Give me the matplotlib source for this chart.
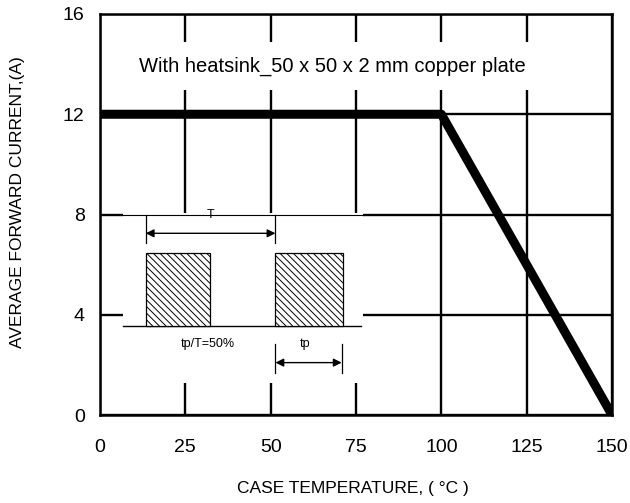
import matplotlib
matplotlib.use("Agg")
import matplotlib.pyplot as plt
from matplotlib.patches import Rectangle

plt.rcParams['font.family'] = ['Liberation Sans', 'DejaVu Sans']
plt.rcParams['hatch.linewidth'] = 0.7

# derating curve
temp = [0, 100, 150]
current = [12, 12, 0]

xticks = [0, 25, 50, 75, 100, 125, 150]
yticks = [0, 4, 8, 12, 16]

note = "With heatsink_50 x 50 x 2 mm copper plate"
xlab = "CASE TEMPERATURE, ( \u00b0C )"
ylab = "AVERAGE FORWARD CURRENT,(A)"

# pulse sketch (in data units of the main axes)
pulse_left = [13.4, 51.4]
pulse_right = [32.1, 71.3]
pulse_low = 3.55
pulse_high = 6.46

fig = plt.figure(figsize=(6.3, 5.03), dpi=100)
ax = fig.add_axes([100/630, 1-415/503, 512/630, 401/503])
ax.set_xlim(0, 150)
ax.set_ylim(0, 16)
ax.set_xticks(xticks)
ax.set_yticks(yticks)
ax.tick_params(length=0, labelsize=14)
ax.tick_params(axis='x', pad=17)
ax.tick_params(axis='y', pad=11)
for s in ax.spines.values():
    s.set_linewidth(1.8)
ax.grid(True, color='black', linewidth=1.7)
ax.set_axisbelow(True)

ax.plot(temp, current, color='black', linewidth=6.5, solid_capstyle='butt', zorder=5)

# white band behind the note
ax.add_patch(Rectangle((9, 12.97), 120, 1.91, facecolor='white', edgecolor='none', zorder=2))
ax.text(68, 13.93, note, fontsize=14.5, ha='center', va='center', zorder=3)

# inset white box with pulses
ax.add_patch(Rectangle((6.7, 1.28), 70.4, 6.78, facecolor='white', edgecolor='none', zorder=2))
ax.plot([6.7, 77.1], [8, 8], color='black', linewidth=0.8, zorder=3)
ax.plot([6.8, 76.6], [pulse_low, pulse_low], color='black', linewidth=1.0, zorder=3)
for l, r in zip(pulse_left, pulse_right):
    ax.add_patch(Rectangle((l, pulse_low), r - l, pulse_high - pulse_low, facecolor='white',
                           edgecolor='black', hatch='\\\\\\\\\\', linewidth=0.9, zorder=3))

# T arrow
for xx in [13.4, 51.4]:
    ax.plot([xx, xx], [6.87, 7.98], color='black', linewidth=0.9, zorder=3)
ax.annotate('', xy=(13.4, 7.25), xytext=(51.4, 7.25),
            arrowprops=dict(arrowstyle='<|-|>', color='black', lw=1.0, mutation_scale=12,
                            shrinkA=0, shrinkB=0), zorder=3)
ax.text(32.4, 7.98, 'T', fontsize=9, ha='center', va='center', zorder=4)

# tp arrow
for xx in [51.4, 70.8]:
    ax.plot([xx, xx], [1.69, 2.83], color='black', linewidth=0.9, zorder=3)
ax.annotate('', xy=(51.4, 2.09), xytext=(70.8, 2.09),
            arrowprops=dict(arrowstyle='<|-|>', color='black', lw=1.0, mutation_scale=12,
                            shrinkA=0, shrinkB=0), zorder=3)
ax.text(60.1, 2.83, 'tp', fontsize=9, ha='center', va='center', zorder=4)
ax.text(31.7, 2.83, 'tp/T=50%', fontsize=9, ha='center', va='center', zorder=4)

fig.text(353/630, 1-488/503, xlab, fontsize=12.5, ha='center', va='center')
fig.text(17.5/630, 1-202.5/503, ylab, fontsize=12.5, ha='center', va='center', rotation=90)

fig.savefig('out.png', dpi=100)
